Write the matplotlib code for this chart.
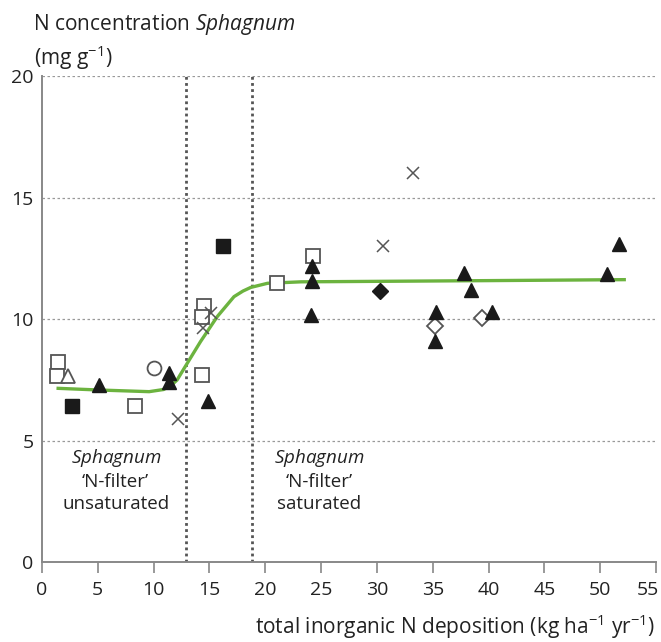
import matplotlib.pyplot as plt
from matplotlib.transforms import ScaledTranslation

plt.rcParams['font.family'] = ['Open Sans', 'DejaVu Sans']
plt.rcParams['mathtext.fontset'] = 'custom'
plt.rcParams['mathtext.rm'] = 'Open Sans'
plt.rcParams['mathtext.it'] = 'Open Sans:italic'

# N deposition (x) vs Sphagnum N concentration (y), grouped by symbol
open_sq_x = [1.47, 1.32, 8.3, 14.5, 14.37, 14.3, 21.06, 24.27]
open_sq_y = [8.24, 7.67, 6.43, 10.53, 10.07, 7.7, 11.47, 12.59]
open_tri_x = [2.3]
open_tri_y = [7.67]
open_circ_x = [10.0]
open_circ_y = [8.0]
open_dia_x = [35.2, 39.4]
open_dia_y = [9.71, 10.05]
fill_sq_x = [2.73, 16.2]
fill_sq_y = [6.42, 13.02]
fill_tri_x = [5.07, 11.4, 11.37, 14.9, 24.2, 24.2, 24.1, 37.8, 38.4, 35.3, 35.2, 40.3, 50.6, 51.7]
fill_tri_y = [7.3, 7.79, 7.42, 6.64, 12.2, 11.56, 10.16, 11.88, 11.19, 10.28, 9.1, 10.29, 11.85, 13.1]
fill_dia_x = [30.3]
fill_dia_y = [11.16]
cross_x = [12.2, 14.43, 15.18, 30.57, 33.27]
cross_y = [5.88, 9.62, 10.23, 13.0, 16.0]

# fitted response curve
fit_x = [1.3, 5.0, 9.6, 10.9, 11.6, 12.1, 13.0, 14.2, 15.7, 17.2, 18.0, 18.7, 20.2, 23.2, 30.0, 40.0, 52.3]
fit_y = [7.15, 7.08, 7.01, 7.1, 7.28, 7.49, 8.17, 9.07, 10.1, 10.92, 11.15, 11.3, 11.47, 11.53, 11.55, 11.58, 11.62]

# deposition thresholds separating the two regimes
thresholds = [12.9, 18.8]

fig = plt.figure(figsize=(6.61, 6.42), dpi=100)
ax = fig.add_axes([0.0635, 0.1246, 0.929, 0.757])

edge = '#555555'
black = '#1a1a1a'
txt = '#222222'

for y in [5, 10, 15, 20]:
    ax.axhline(y, color='#999999', lw=0.9, ls=(0, (2, 2)), zorder=0)
for t in thresholds:
    ax.axvline(t, color='#555555', lw=2.0, ls=(0, (1, 1.2)), zorder=1)

ax.plot(fit_x, fit_y, color='#6cb33f', lw=2.4, zorder=2, solid_capstyle='butt')

ms = dict(ls='none', zorder=3)
ax.plot(open_sq_x, open_sq_y, marker='s', ms=10.5, mfc='white', mec=edge, mew=1.3, **ms)
ax.plot(open_tri_x, open_tri_y, marker='^', ms=10, mfc='white', mec=edge, mew=1.3, **ms)
ax.plot(open_circ_x, open_circ_y, marker='o', ms=10, mfc='white', mec=edge, mew=1.3, **ms)
ax.plot(open_dia_x, open_dia_y, marker='D', ms=8, mfc='white', mec=edge, mew=1.3, **ms)
ax.plot(fill_tri_x, fill_tri_y, marker='^', ms=10, mfc=black, mec=black, **ms)
ax.plot(fill_sq_x, fill_sq_y, marker='s', ms=10.5, mfc=black, mec=black, **ms)
ax.plot(fill_dia_x, fill_dia_y, marker='D', ms=8, mfc=black, mec=black, **ms)
ax.plot(cross_x, cross_y, marker='x', ms=8.5, mec=edge, mew=1.1, **ms)

ax.set_xlim(0, 55)
ax.set_ylim(0, 20)
ax.set_xticks(range(0, 56, 5))
ax.set_yticks([0, 5, 10, 15, 20])
for s in ['top', 'right']:
    ax.spines[s].set_visible(False)
for s in ['left', 'bottom']:
    ax.spines[s].set_color('#888888')
    ax.spines[s].set_linewidth(1.4)
ax.tick_params(axis='x', direction='out', length=8, width=1.2, color='#888888',
               labelsize=14, labelcolor=txt, pad=6)
ax.tick_params(axis='y', length=0, labelsize=14, labelcolor=txt, pad=6)

# pull the last tick label in so it stays inside the figure
last = ax.get_xticklabels()[-1]
last.set_transform(last.get_transform() + ScaledTranslation(-0.08, 0, fig.dpi_scale_trans))

ax.text(6.6, 4.75, '$\\mathit{Sphagnum}$\n‘N-filter’\nunsaturated', ha='center', va='top',
        fontsize=13.5, color=txt, linespacing=1.3)
ax.text(24.8, 4.75, '$\\mathit{Sphagnum}$\n‘N-filter’\nsaturated', ha='center', va='top',
        fontsize=13.5, color=txt, linespacing=1.3)

fig.text(0.05, 0.954, 'N concentration $\\mathit{Sphagnum}$', fontsize=15, color=txt)
fig.text(0.052, 0.899, '(mg g$^{-1}$)', fontsize=15, color=txt)
fig.text(0.991, 0.013, 'total inorganic N deposition (kg ha$^{-1}$ yr$^{-1}$)', ha='right',
         fontsize=15, color=txt)

fig.savefig('out.png', dpi=100)
